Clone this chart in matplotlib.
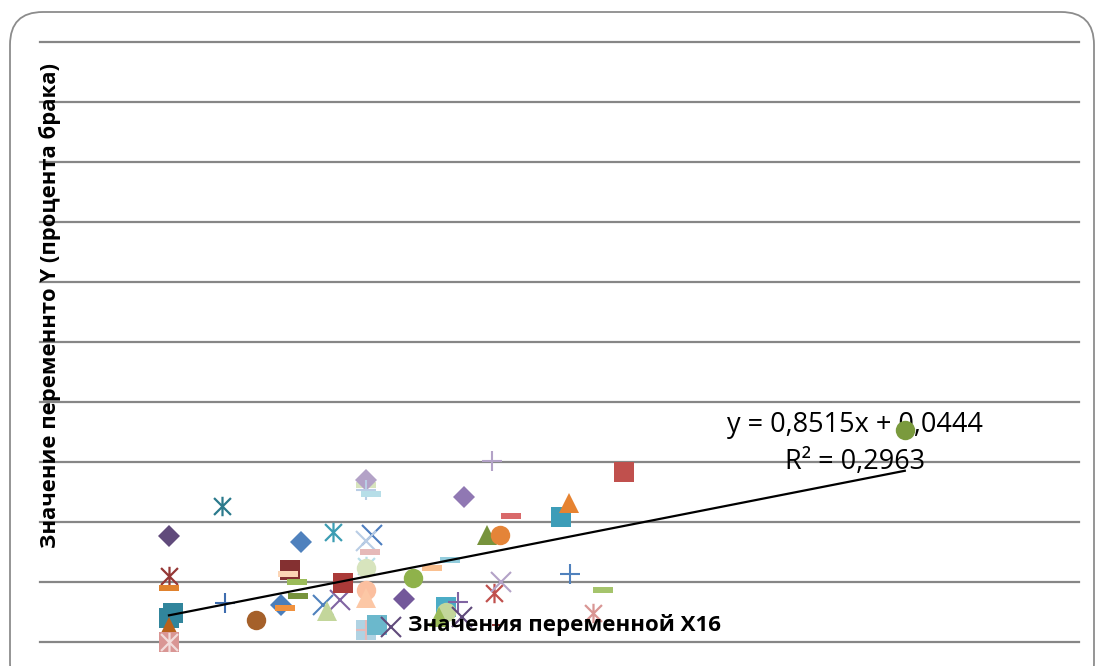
import numpy as np
import matplotlib
matplotlib.use("Agg")
import matplotlib.pyplot as plt
from matplotlib.path import Path
from matplotlib.patches import FancyBboxPatch

# ---------------- data ----------------
x_values = [0.0, 0.0, 0.0, 0.0, 0.0015, 0.0, 0.0, 0.0,
            0.0204, 0.0215, 0.0335, 0.0508, 0.0431, 0.0446, 0.0465, 0.0458,
            0.0492, 0.0496, 0.0631, 0.0592, 0.0658, 0.0608, 0.0669,
            0.0758, 0.0758, 0.0758, 0.0777, 0.0781, 0.0758, 0.0773,
            0.0758, 0.0758, 0.0758, 0.0758, 0.0758, 0.0758, 0.0800,
            0.0854, 0.0904, 0.0938, 0.1012, 0.1081, 0.1065, 0.1065, 0.1040,
            0.1112, 0.1127, 0.1135, 0.1242, 0.1315, 0.1223, 0.1273,
            0.1250, 0.1277, 0.1262, 0.1508, 0.1538, 0.1542, 0.1669, 0.1631,
            0.1750, 0.2830]
y_values = [0.1767, 0.1100, 0.0900, 0.0400, 0.0483, 0.0250, 0.0000, 0.0000,
            0.2267, 0.0650, 0.0367, 0.1667, 0.0617, 0.0567, 0.1200, 0.1133,
            0.1000, 0.0767, 0.1833, 0.0617, 0.0700, 0.0517, 0.0983,
            0.2617, 0.2700, 0.2533, 0.2467, 0.1783, 0.1683, 0.1500,
            0.1267, 0.1233, 0.0867, 0.0733, 0.0200, 0.0200, 0.0283,
            0.0250, 0.0717, 0.1067, 0.1233, 0.1367, 0.0583, 0.0500, 0.0417,
            0.0667, 0.0417, 0.2417, 0.3017, 0.2100, 0.1783, 0.1783,
            0.0817, 0.1000, 0.0283, 0.2083, 0.2317, 0.1133, 0.0867, 0.0483,
            0.2833, 0.3533]

trend_slope = 0.8515
trend_intercept = 0.0444
r_squared = 0.2963

x_title = "Значения переменной X16"
y_title = "Значение переменнто Y (процента брака)"

# ---------------- styles (one per point) ----------------
marker_kinds = ["D", "ast", "dash", "s", "s", "^", "s", "ast",
                "ast", "+", "o", "D", "D", "dash", "s", "dash",
                "dash", "dash", "ast", "x", "x", "^", "s",
                "dash", "D", "+", "dash", "x", "x", "dash",
                "ast", "o", "o", "^", "s", "+", "s",
                "x", "D", "o", "dash", "dash", "s", "o", "^",
                "+", "x", "D", "+", "dash", "^", "o",
                "ast", "x", "sdash", "s", "^", "+", "dash", "ast",
                "s", "o"]
marker_colors = ["#604A7B", "#953735", "#E0822E", "#31859C", "#31859C", "#B9621C", "#D99694", "#F2DCDB",
                 "#2B7A8C", "#3E6DAF", "#A5602A", "#4F81BD", "#4A7EBB", "#F0913E", "#843031", "#FCD5B5",
                 "#9BBB59", "#77933C", "#3C9DB3", "#4F81BD", "#8064A2", "#C3D69B", "#AA3A38",
                 "#D7E4BD", "#B3A2C7", "#B9CDE5", "#B7DEE8", "#4C7DBF", "#B9CDE5", "#E6B9B8",
                 "#B7DEE8", "#D7E4BD", "#FBBF9F", "#FCC7A5", "#B0D3E3", "#E6B9B8", "#6BB8CC",
                 "#604A7B", "#73589A", "#8FB24B", "#FAC090", "#93CDDD", "#4BACC6", "#C3D69B", "#9BBB59",
                 "#8064A2", "#5F497A", "#9078B3", "#B3A2C7", "#D9696A", "#77933C", "#E48438",
                 "#C0504D", "#B3A2C7", "#953735", "#3D9DB8", "#E68331", "#4F81BD", "#A5C46C", "#D99694",
                 "#C0504D", "#7A9A3D"]

ast_path = Path([(-1, -1), (1, 1), (-1, 1), (1, -1), (0, -1.15), (0, 1.15)],
                [Path.MOVETO, Path.LINETO, Path.MOVETO, Path.LINETO, Path.MOVETO, Path.LINETO])
dash_path = Path([(-1, -0.28), (1, -0.28), (1, 0.28), (-1, 0.28), (-1, -0.28)],
                 [Path.MOVETO, Path.LINETO, Path.LINETO, Path.LINETO, Path.CLOSEPOLY])

W, H = 1095, 666
fig = plt.figure(figsize=(W / 100, H / 100), dpi=100)
fig.patch.set_facecolor("white")

# chart-area rounded border
border = FancyBboxPatch((10 / W, -30 / H), (1084 / W), (684 / H),
                        boxstyle="round,pad=0,rounding_size=0.03",
                        transform=fig.transFigure, fill=False,
                        edgecolor="#8C8C8C", linewidth=1.3, mutation_aspect=W / H)
fig.patches.append(border)

ax = fig.add_axes([40 / W, 24 / H, 1039 / W, 600 / H])
ax.set_xlim(-0.0496, 0.35)
ax.set_ylim(0, 1)
for s in ax.spines.values():
    s.set_visible(False)
ax.set_xticks([])
ax.set_yticks([])
ax.patch.set_alpha(0)
for gy in np.arange(0, 1.0001, 0.1):
    ax.axhline(gy, color="#868686", linewidth=1.6, zorder=1, clip_on=False)

def fmt(v):
    return f"{v:.4f}".replace(".", ",")

# trendline label (drawn beneath the markers, as in the reference)
ax.text(855 / W, 1 - 425 / H, f"y = {fmt(trend_slope)}x + {fmt(trend_intercept)}",
        transform=fig.transFigure, ha="center", va="center", fontsize=19.5,
        family="Open Sans", zorder=2)
ax.text(855 / W, 1 - 462 / H, f"R² = {fmt(r_squared)}",
        transform=fig.transFigure, ha="center", va="center", fontsize=19.5,
        family="Open Sans", zorder=2)

for xv, yv, mk, col in zip(x_values, y_values, marker_kinds, marker_colors):
    kw = dict(linestyle="none", zorder=3, clip_on=False, color=col)
    if mk == "ast":
        ax.plot([xv], [yv], marker=ast_path, ms=14, mew=1.6, **kw)
    elif mk == "dash":
        ax.plot([xv], [yv], marker=dash_path, ms=14, mew=0, **kw)
    elif mk == "sdash":
        ax.plot([xv], [yv], marker=dash_path, ms=7, mew=0, **kw)
    elif mk in ("x", "+"):
        ax.plot([xv], [yv], marker=mk, ms=15 if mk == "x" else 14, mew=1.5, **kw)
    elif mk == "D":
        ax.plot([xv], [yv], marker="D", ms=11.5, mew=0, **kw)
    else:
        ax.plot([xv], [yv], marker=mk, ms=14, mew=0, **kw)

# linear trendline over the data range
xt = np.array([min(x_values), max(x_values)])
ax.plot(xt, trend_slope * xt + trend_intercept, color="black", linewidth=1.6, zorder=4)

fig.text(565 / W, 1 - 625 / H, x_title, ha="center", va="center",
         fontsize=16, fontweight="bold", family="Open Sans", zorder=10)
fig.text(50 / W, 1 - 306 / H, y_title, ha="center", va="center", rotation=90,
         fontsize=15.8, fontweight="bold", family="Open Sans", zorder=10)

fig.savefig("out.png", dpi=100)
